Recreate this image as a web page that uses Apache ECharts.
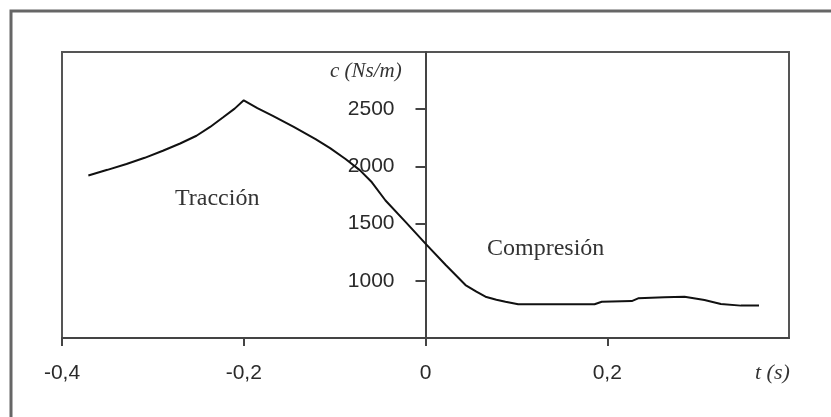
<!DOCTYPE html>
<html>
<head>
<meta charset="utf-8">
<script src="https://cdn.jsdelivr.net/npm/echarts@6/dist/echarts.min.js"></script>
<style>html,body{margin:0;padding:0;background:#fff;}#c{width:831px;height:417px;}</style>
</head>
<body>
<div id="c"></div>
<script>
// time (s)
var tValues = [-0.371, -0.350, -0.329, -0.309, -0.289, -0.270, -0.252, -0.237, -0.223, -0.210, -0.200,
  -0.185, -0.168, -0.145, -0.121, -0.105, -0.088, -0.072, -0.059, -0.044, -0.022, 0.000,
  0.022, 0.044, 0.056, 0.066, 0.078, 0.088, 0.102, 0.140, 0.186, 0.194, 0.227, 0.234,
  0.263, 0.285, 0.307, 0.325, 0.347, 0.367];
// damping coefficient c (Ns/m)
var cValues = [1920, 1970, 2021, 2075, 2137, 2200, 2268, 2345, 2427, 2505, 2578,
  2510, 2442, 2345, 2239, 2160, 2065, 1965, 1861, 1702, 1515, 1325,
  1140, 963, 905, 861, 835, 817, 795, 795, 795, 817, 823, 847,
  856, 861, 832, 797, 783, 783];
var xTicks = [-0.4, -0.2, 0, 0.2];
var yLabels = [1000, 1500, 2000, 2500];
var xName = 't (s)';
var yName = 'c (Ns/m)';
var notes = ['Tracción', 'Compresión'];

var data = tValues.map(function (t, i) { return [t, cValues[i]]; });

var gridLeft = 62, gridRight = 42;
var plotW = 831 - gridLeft - gridRight;

var chart = echarts.init(document.getElementById('c'), null, {renderer: 'canvas'});
chart.setOption({
  animation: false,
  backgroundColor: '#fff',
  grid: {left: gridLeft, top: 52, right: gridRight, bottom: 79, show: true, borderColor: '#555', borderWidth: 2,
    containLabel: false, outerBoundsMode: 'none'},
  xAxis: {
    type: 'value', min: -0.4, max: 0.4, interval: 0.2,
    splitLine: {show: false},
    axisLine: {onZero: false, lineStyle: {color: '#444', width: 2}},
    axisTick: {show: true, length: 8, lineStyle: {color: '#444', width: 2}, customValues: xTicks},
    axisLabel: {
      customValues: xTicks,
      margin: 25, color: '#2a2a2a', fontFamily: 'Liberation Sans', fontSize: 21,
      formatter: function (v) { return String(Math.round(v * 10) / 10).replace('.', ','); }
    }
  },
  yAxis: {
    type: 'value', min: 500, max: 3000, interval: 500,
    position: 'left', offset: -plotW / 2,
    splitLine: {show: false},
    axisLine: {onZero: false, lineStyle: {color: '#444', width: 2}},
    axisTick: {show: true, length: 10, lineStyle: {color: '#444', width: 2}, customValues: yLabels},
    axisLabel: {
      customValues: yLabels,
      margin: 31, color: '#2a2a2a', fontFamily: 'Liberation Sans', fontSize: 21,
      formatter: function (v) { return String(v); }
    }
  },
  series: [{
    type: 'line', data: data, showSymbol: false, smooth: false,
    lineStyle: {color: '#111', width: 2}
  }],
  graphic: [
    {type: 'rect', shape: {x: 11, y: 11, width: 900, height: 500}, style: {fill: 'none', stroke: '#666', lineWidth: 3}, silent: true},
    {type: 'text', left: 330, top: 61, style: {text: yName, font: 'italic 21px "Liberation Serif"', fill: '#333'}},
    {type: 'text', left: 755, top: 362, style: {text: xName, font: 'italic 22px "Liberation Serif"', fill: '#333'}},
    {type: 'text', left: 175, top: 187, style: {text: notes[0], font: '24px "Liberation Serif"', fill: '#333'}},
    {type: 'text', left: 487, top: 237, style: {text: notes[1], font: '24px "Liberation Serif"', fill: '#333'}}
  ]
});
</script>
</body>
</html>
